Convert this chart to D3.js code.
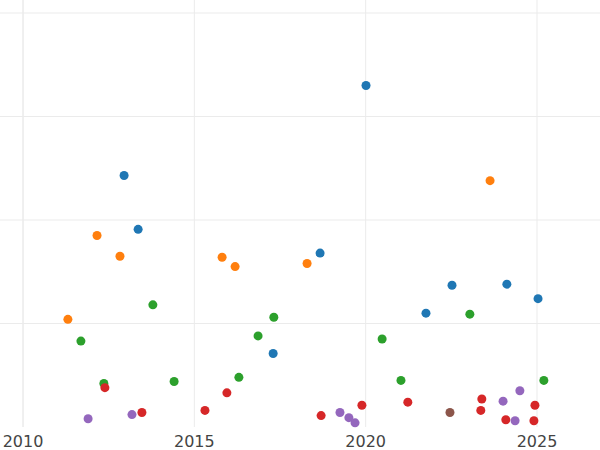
<!DOCTYPE html><html><head><meta charset="utf-8"><script src="https://cdn.jsdelivr.net/npm/d3@7"></script>
<style>body{margin:0;background:#fff}</style></head><body><svg id="c" width="600" height="450"></svg><script>
const xTicks=[2010,2015,2020,2025];
const yTicks=[1,2,3,4];
const colors=["#1f77b4","#ff7f0e","#2ca02c","#d62728","#9467bd","#8c564b"];
const blue=[[2020.01,3.30],[2012.95,2.43],[2013.36,1.91],[2018.67,1.68],[2022.52,1.37],[2024.12,1.38],[2025.03,1.24],[2021.76,1.10],[2017.30,0.71]];
const orange=[[2023.63,2.38],[2012.16,1.85],[2012.83,1.65],[2015.81,1.64],[2016.19,1.55],[2018.29,1.58],[2011.31,1.04]];
const green=[[2013.79,1.18],[2017.32,1.06],[2011.69,0.83],[2020.48,0.85],[2023.04,1.09],[2016.86,0.88],[2012.36,0.42],[2014.41,0.44],[2016.30,0.48],[2021.03,0.45],[2025.20,0.45]];
const red=[[2012.39,0.38],[2013.47,0.14],[2015.31,0.16],[2015.95,0.33],[2018.70,0.11],[2019.89,0.21],[2021.23,0.24],[2023.39,0.27],[2023.36,0.16],[2024.09,0.07],[2024.94,0.21],[2024.91,0.06]];
const purple=[[2011.90,0.08],[2013.18,0.12],[2019.25,0.14],[2019.51,0.09],[2019.69,0.04],[2024.01,0.25],[2024.50,0.35],[2024.36,0.06]];
const brown=[[2022.46,0.14]];
const series=[blue,orange,green,red,purple,brown];
const svg=d3.select("#c");
const x=d3.scaleLinear().domain([2010,2025]).range([23,537]);
const y=d3.scaleLinear().domain([0,4]).range([427,13]);
svg.append("g").selectAll("line").data(xTicks).join("line")
 .attr("x1",d=>x(d)).attr("x2",d=>x(d)).attr("y1",0).attr("y2",427)
 .attr("stroke",d=>d===2010?"#e0e0e0":"#ebebeb").attr("stroke-width",1);
svg.append("g").selectAll("line").data(yTicks).join("line")
 .attr("x1",0).attr("x2",600).attr("y1",d=>y(d)).attr("y2",d=>y(d))
 .attr("stroke","#ebebeb");
svg.append("g").selectAll("text").data(xTicks).join("text")
 .attr("x",d=>x(d)).attr("y",447).attr("text-anchor","middle")
 .attr("font-family","DejaVu Sans").attr("font-size",16).attr("fill","#444").text(d=>d);
series.forEach((s,i)=>{
 svg.append("g").selectAll("circle").data(s).join("circle")
  .attr("cx",d=>x(d[0])).attr("cy",d=>y(d[1])).attr("r",4.5).attr("fill",colors[i]);
});
</script></body></html>
